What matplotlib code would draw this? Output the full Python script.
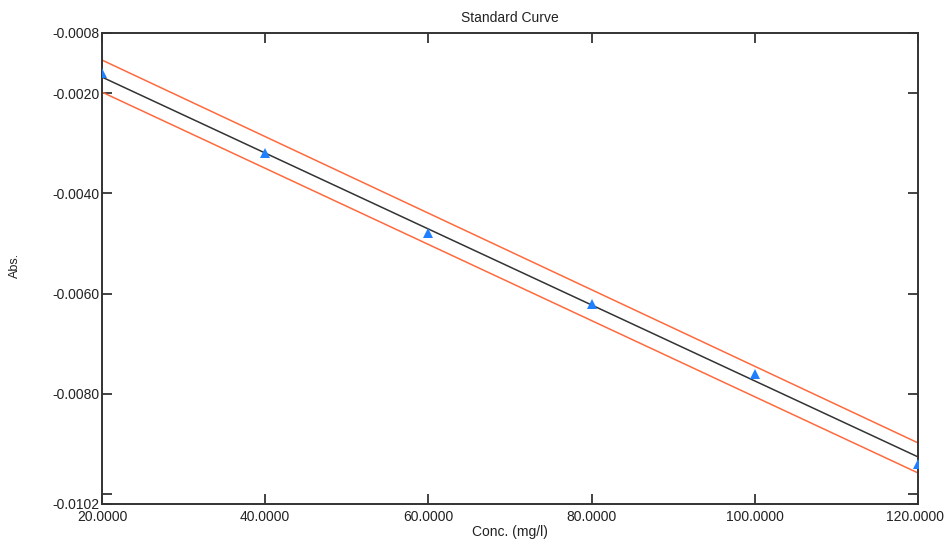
import matplotlib
matplotlib.use("Agg")
import matplotlib.pyplot as plt

plt.rcParams['font.family'] = ['Liberation Sans', 'DejaVu Sans']

# Data
conc = [20, 40, 60, 80, 100, 120]
absorb = [-0.0016, -0.0032, -0.0048, -0.0062, -0.0076, -0.0094]
line_x = [20, 120]
fit_y = [-0.00168, -0.00926]
upper_y = [-0.00134, -0.00898]
lower_y = [-0.00198, -0.00958]
y_ticks = [-0.0102, -0.0100, -0.0080, -0.0060, -0.0040, -0.0020, -0.0008]
y_labels = ['-0.0102', '', '-0.0080', '-0.0060', '-0.0040', '-0.0020', '-0.0008']
x_ticks = [20, 40, 60, 80, 100, 120]
x_labels = ['20.0000', '40.0000', '60.0000', '80.0000', '100.0000', '120.0000']

fig = plt.figure(figsize=(9.45, 5.39), dpi=100)
ax = fig.add_axes([102/945, 1-504/539, (918-102)/945, (504-33)/539])

ax.plot(line_x, upper_y, color='#FF6A3D', lw=1.1, zorder=2)
ax.plot(line_x, lower_y, color='#FF6A3D', lw=1.1, zorder=2)
ax.plot(line_x, fit_y, color='#333333', lw=1.1, zorder=3)
ax.plot(conc, absorb, linestyle='none', marker='^', markersize=7,
        color='#1E7FFF', markeredgewidth=0, zorder=4)

ax.set_xlim(20, 120)
ax.set_ylim(-0.0102, -0.0008)
ax.set_xticks(x_ticks)
# last label drawn separately so it stays inside the figure
ax.set_xticklabels(x_labels[:-1] + [''])
ax.set_yticks(y_ticks)
ax.set_yticklabels(y_labels)

ax.tick_params(axis='both', direction='in', length=7, width=1.2, color='#222222',
               labelsize=10, labelcolor='#222222', top=True, right=True)
ax.tick_params(axis='y', pad=2)
ax.tick_params(axis='x', pad=4)
for s in ax.spines.values():
    s.set_linewidth(1.4)
    s.set_color('#333333')

ax.annotate(x_labels[-1], xy=(x_ticks[-1], 0), xycoords=ax.get_xaxis_transform(),
            xytext=(-2.5, -4), textcoords='offset points', ha='center', va='top',
            fontsize=10, color='#222222')

ax.set_title('Standard Curve', fontsize=10, color='#222222', pad=8)
ax.set_xlabel('Conc. (mg/l)', fontsize=10, color='#222222', labelpad=1)
fig.text(15/945, 1-265/539, 'Abs.', rotation=90, fontsize=9, color='#222222',
         ha='center', va='center')

fig.savefig('out.png', dpi=100)
